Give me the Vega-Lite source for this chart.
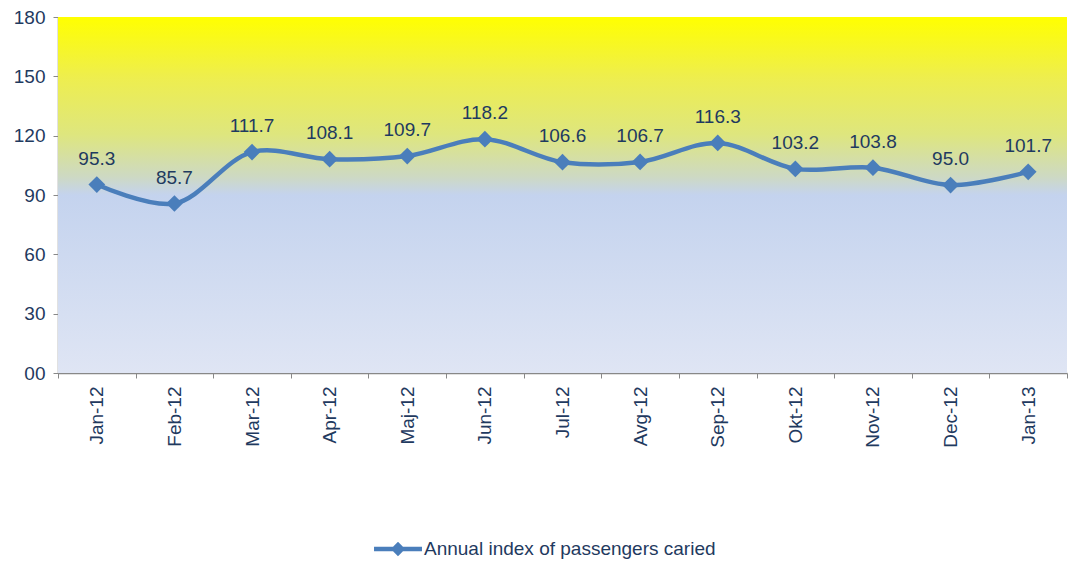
{
  "$schema": "https://vega.github.io/schema/vega-lite/v6.json",
  "width": 1009,
  "height": 356,
  "autosize": {"type": "none"},
  "padding": {"left": 58, "top": 17, "right": 1, "bottom": 188},
  "background": "white",
  "config": {
    "view": {"stroke": null},
    "font": "Liberation Sans",
    "axis": {"labelFont": "Liberation Sans", "labelFontSize": 19, "labelColor": "#1f3a60"}
  },
  "datasets": {
    "bg": [{"lo": 0, "hi": 180}],
    "series": [
      {"month": "Jan-12", "value": 95.3, "series": "Annual index of passengers caried"},
      {"month": "Feb-12", "value": 85.7, "series": "Annual index of passengers caried"},
      {"month": "Mar-12", "value": 111.7, "series": "Annual index of passengers caried"},
      {"month": "Apr-12", "value": 108.1, "series": "Annual index of passengers caried"},
      {"month": "Maj-12", "value": 109.7, "series": "Annual index of passengers caried"},
      {"month": "Jun-12", "value": 118.2, "series": "Annual index of passengers caried"},
      {"month": "Jul-12", "value": 106.6, "series": "Annual index of passengers caried"},
      {"month": "Avg-12", "value": 106.7, "series": "Annual index of passengers caried"},
      {"month": "Sep-12", "value": 116.3, "series": "Annual index of passengers caried"},
      {"month": "Okt-12", "value": 103.2, "series": "Annual index of passengers caried"},
      {"month": "Nov-12", "value": 103.8, "series": "Annual index of passengers caried"},
      {"month": "Dec-12", "value": 95.0, "series": "Annual index of passengers caried"},
      {"month": "Jan-13", "value": 101.7, "series": "Annual index of passengers caried"}
    ]
  },
  "layer": [
    {
      "data": {"name": "bg"},
      "mark": {
        "type": "rect",
        "fill": {
          "gradient": "linear", "x1": 0, "y1": 0, "x2": 0, "y2": 1,
          "stops": [
            {"offset": 0, "color": "#ffff00"},
            {"offset": 0.17, "color": "#eeee4e"},
            {"offset": 0.33, "color": "#dee67e"},
            {"offset": 0.45, "color": "#cdd9c4"},
            {"offset": 0.5, "color": "#c4d3ee"},
            {"offset": 1, "color": "#dfe5f4"}
          ]
        }
      },
      "encoding": {
        "y": {"field": "lo", "type": "quantitative", "scale": {"domain": [0, 180]}},
        "y2": {"field": "hi"}
      }
    },
    {
      "data": {"name": "series"},
      "layer": [
        {
          "mark": {"type": "line", "interpolate": "catmull-rom", "strokeWidth": 4.5},
          "encoding": {
            "color": {
              "field": "series", "type": "nominal",
              "scale": {"range": ["#4a7ebb"]},
              "legend": {
                "orient": "none", "legendX": 316, "legendY": 508,
                "title": null, "direction": "horizontal",
                "labelFontSize": 19, "labelColor": "#1f3a60", "labelFont": "Liberation Sans",
                "labelLimit": 0,
                "symbolType": "M-1,-0.09 H1 V0.09 H-1 Z M0,-0.3 L0.3,0 L0,0.3 L-0.3,0 Z",
                "symbolSize": 2300, "symbolStrokeWidth": 0, "symbolFillColor": "#4a7ebb",
                "labelOffset": 2
              }
            }
          }
        },
        {
          "mark": {"type": "point", "shape": "diamond", "filled": true, "size": 280, "opacity": 1},
          "encoding": {
            "color": {"field": "series", "type": "nominal", "legend": null}
          }
        },
        {
          "mark": {"type": "text", "dy": -26, "fontSize": 19, "color": "#1f3a60", "font": "Liberation Sans"},
          "encoding": {
            "text": {"field": "value", "type": "quantitative", "format": ".1f"}
          }
        }
      ],
      "encoding": {
        "x": {
          "field": "month", "type": "nominal", "sort": null,
          "scale": {"paddingInner": 0, "paddingOuter": 0},
          "axis": {
            "title": null, "labelAngle": -90, "labelPadding": 8,
            "tickBand": "extent", "ticks": true, "tickSize": 5, "tickColor": "#888888",
            "domainColor": "#888888", "domainWidth": 1.5, "grid": false
          }
        },
        "y": {
          "field": "value", "type": "quantitative",
          "scale": {"domain": [0, 180]},
          "axis": {
            "title": null, "values": [0, 30, 60, 90, 120, 150, 180],
            "labelExpr": "datum.value == 0 ? '00' : datum.label",
            "tickSize": 5, "tickColor": "#888888", "domainColor": "#888888", "domainWidth": 1.5,
            "labelPadding": 8,
            "grid": true, "gridColor": "#c4c4c4", "gridDash": [6, 4], "gridWidth": 1
          }
        }
      }
    }
  ]
}
